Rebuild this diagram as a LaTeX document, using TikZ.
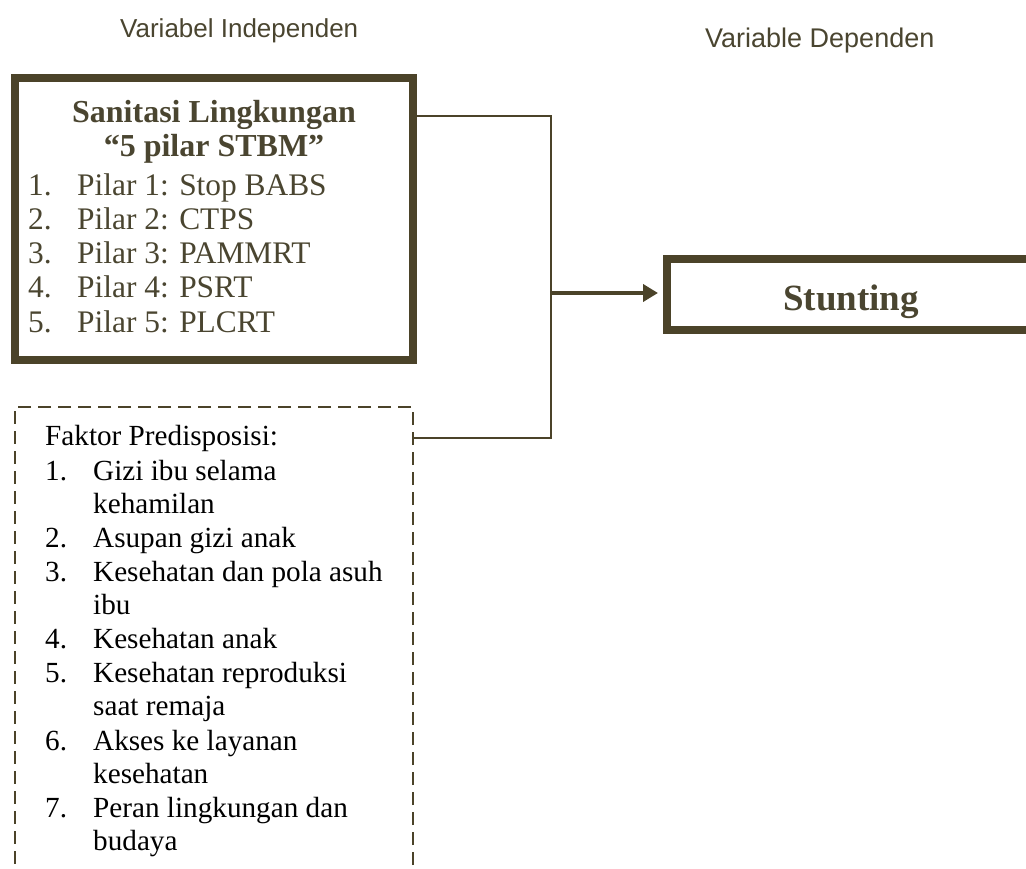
\documentclass[tikz,border=0pt]{standalone}
\usepackage{fontspec}
\setmainfont{Liberation Serif}
\newfontfamily\labelfont{Liberation Sans}
\usetikzlibrary{arrows.meta}
\definecolor{olive}{HTML}{4B4329}
\definecolor{olivetext}{HTML}{4A4530}
\tikzset{
  thickbox/.style={draw=olive, line width=8pt, rectangle, inner sep=0pt},
  dashbox/.style={draw=olive, line width=2pt, rectangle, inner sep=0pt, dash pattern=on 13pt off 7pt},
  conn/.style={draw=olive, line width=2pt},
  arrowconn/.style={draw=olive, line width=4pt, -{Triangle[length=15pt,width=17pt]}, shorten >=5pt},
  toplabel/.style={inner sep=0pt, anchor=base west, text=olivetext, font=\labelfont\fontsize{26}{30}\selectfont},
  head/.style={inner sep=0pt, anchor=base, text=olivetext, font=\bfseries\fontsize{32}{36}\selectfont},
  item/.style={inner sep=0pt, anchor=base west, text=olivetext, font=\fontsize{31.4}{34}\selectfont},
  itemb/.style={inner sep=0pt, anchor=base west, text=black, font=\fontsize{29.2}{33.8}\selectfont},
}
\begin{document}
\begin{tikzpicture}[x=1pt,y=-1pt]
\useasboundingbox (0,0) rectangle (1026,869);
\begin{scope}
\clip (0,0) rectangle (1026,869);

% top labels
\node[toplabel] (lblind) at (120,38) {Variabel Independen};
\node[toplabel, font=\labelfont\fontsize{27}{31}\selectfont] (lbldep) at (705,48) {Variable Dependen};

% box 1
\node[thickbox, minimum width=398pt, minimum height=282pt] (box1) at (214,219) {};
\node[head] (h1) at (214,123) {Sanitasi Lingkungan};
\node[head] (h2) at (214,157) {“5 pilar STBM”};
\foreach \n/\t/\y in {1/Stop BABS/196, 2/CTPS/230, 3/PAMMRT/264, 4/PSRT/298, 5/PLCRT/332}{
  \node[item] (pn\n) at (28,\y) {\n.};
  \node[item] (pt\n) at (77,\y) {Pilar \n: \t};
}

% dashed box
\node[dashbox, minimum width=398pt, minimum height=500pt] (box2) at (214,657) {};
\node[itemb] (fp) at (45,445) {Faktor Predisposisi:};
\foreach \n/\y in {1/480, 2/547, 3/581, 4/648, 5/682, 6/750, 7/817}{
  \node[itemb] (fn\n) at (45,\y) {\n.};
}
\foreach \t/\y [count=\k] in {Gizi ibu selama/480, kehamilan/513, Asupan gizi anak/547, Kesehatan dan pola asuh/581, ibu/614, Kesehatan anak/648, Kesehatan reproduksi/682, saat remaja/715, Akses ke layanan/750, kesehatan/783, Peran lingkungan dan/817, budaya/850}{
  \node[itemb] (ft\k) at (93,\y) {\t};
}

% stunting box
\node[thickbox, minimum width=373pt, minimum height=70.5pt] (stunt) at (853.5,294.75) {};
\node[inner sep=0pt, anchor=base, text=olivetext, font=\bfseries\fontsize{37}{42}\selectfont] (stxt) at (851,310) {Stunting};

% connectors
\coordinate (jt) at (551,116);
\coordinate (jm) at (551,293);
\coordinate (jb) at (551,438);
\draw[conn] (box1.east |- jt) -- (jt) -- (jb) -- (box2.east |- jb);
\draw[arrowconn] (jm) -- (stunt.west |- jm);
\end{scope}
\end{tikzpicture}
\end{document}
